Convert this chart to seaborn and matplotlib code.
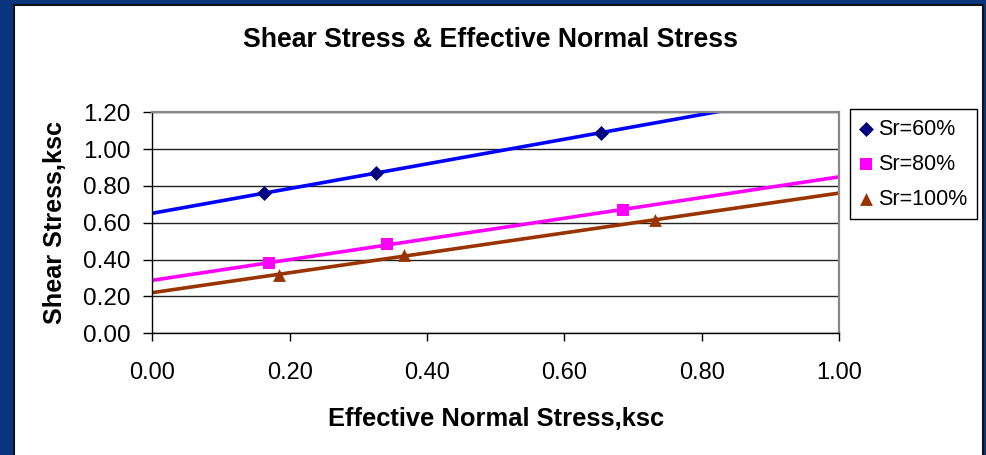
import numpy as np
import matplotlib
matplotlib.use("Agg")
import matplotlib.pyplot as plt
from matplotlib.patches import Rectangle
import seaborn as sns

# ---- data ----
series_names = ["Sr=60%", "Sr=80%", "Sr=100%"]
x60 = [0.163, 0.326, 0.653]
y60 = [0.760, 0.872, 1.089]
x80 = [0.170, 0.341, 0.685]
y80 = [0.380, 0.484, 0.671]
x100 = [0.184, 0.367, 0.732]
y100 = [0.317, 0.424, 0.615]
x_ticks = [0.0, 0.2, 0.4, 0.6, 0.8, 1.0]
y_ticks = [0.0, 0.2, 0.4, 0.6, 0.8, 1.0, 1.2]
title = "Shear Stress & Effective Normal Stress"
x_label = "Effective Normal Stress,ksc"
y_label = "Shear Stress,ksc"

sns.set_style("white")
plt.rcParams["font.family"] = ["Liberation Sans", "DejaVu Sans"]
plt.rcParams["text.color"] = "black"
plt.rcParams["axes.labelcolor"] = "black"
plt.rcParams["xtick.color"] = "black"
plt.rcParams["ytick.color"] = "black"

W, H = 987, 455
fig = plt.figure(figsize=(W / 100, H / 100), dpi=100, facecolor="#0b347f")

# white chart area with dark border
fig.patches.append(Rectangle((14 / W, -0.05), (983 - 14) / W, (H - 5) / H + 0.05,
                             transform=fig.transFigure, facecolor="white",
                             edgecolor="#111111", linewidth=1.5, zorder=-5))

left, right = 152.3 / W, 839.3 / W
top, bottom = 1 - 112.3 / H, 1 - 333.3 / H
ax = fig.add_axes([left, bottom, right - left, top - bottom])
ax.set_zorder(2)
ax.set_facecolor("white")

marker_styles = [
    dict(marker="D", color="#000080", s=58),
    dict(marker="s", color="#ff00ff", s=66),
    dict(marker="^", color="#993300", s=85),
]
line_colors = ["#0000ff", "#ff00ff", "#993300"]
xs_all = [x60, x80, x100]
ys_all = [y60, y80, y100]

for name, xs, ys, ms, lc in zip(series_names, xs_all, ys_all, marker_styles, line_colors):
    # linear trendline through the series (as in the original spreadsheet)
    slope, intercept = np.polyfit(xs, ys, 1)
    tx = np.array([x_ticks[0], x_ticks[-1]])
    ty = intercept + slope * tx
    sns.lineplot(x=tx, y=ty, color=lc, linewidth=2.6, ax=ax, legend=False, zorder=2)
    sns.scatterplot(x=xs, y=ys, marker=ms["marker"], color=ms["color"], s=ms["s"],
                    edgecolor=ms["color"], linewidth=0, ax=ax, label=name, zorder=3)

ax.set_xlim(x_ticks[0], x_ticks[-1])
ax.set_ylim(y_ticks[0], y_ticks[-1])
ax.set_xticks(x_ticks)
ax.set_yticks(y_ticks)
ax.set_xticklabels([f"{v:.2f}" for v in x_ticks])
ax.set_yticklabels([f"{v:.2f}" for v in y_ticks])
ax.tick_params(axis="x", direction="out", length=6, width=1, color="black",
               labelcolor="black", labelsize=17, pad=14.5, bottom=True)
ax.tick_params(axis="y", direction="out", length=6.5, width=1, color="black",
               labelcolor="black", labelsize=17.5, pad=9, left=True)

ax.yaxis.grid(True, color="#222222", linewidth=1)
ax.xaxis.grid(False)
ax.set_axisbelow(True)

for side in ["left", "bottom"]:
    ax.spines[side].set_color("black")
    ax.spines[side].set_linewidth(1)
for side in ["top", "right"]:
    ax.spines[side].set_color("#888888")
    ax.spines[side].set_linewidth(1.6)

ax.set_xlabel(x_label, fontsize=18.4, fontweight="bold", color="black")
ax.set_ylabel(y_label, fontsize=18.2, fontweight="bold", color="black")
ax.xaxis.set_label_coords(0.5, (333.3 - 419) / 221)
ax.xaxis.label.set_va("center")
ax.yaxis.set_label_coords((55 - 152.3) / 687, 0.5)
ax.yaxis.label.set_va("center")
ax.yaxis.label.set_ha("center")

fig.text(490.5 / W, 1 - 40 / H, title, ha="center", va="center",
         fontsize=19.2, fontweight="bold", color="black")

leg = ax.legend(loc="upper left", bbox_to_anchor=(850 / W, 1 - 109 / H),
                bbox_transform=fig.transFigure, fontsize=15.5, frameon=True,
                fancybox=False, edgecolor="black", framealpha=1,
                handlelength=0.6, handletextpad=0.25, labelspacing=0.65,
                borderpad=0.45, borderaxespad=0)
leg.get_frame().set_linewidth(1)
for t in leg.get_texts():
    t.set_color("black")

fig.savefig("out.png", dpi=100, facecolor=fig.get_facecolor())
